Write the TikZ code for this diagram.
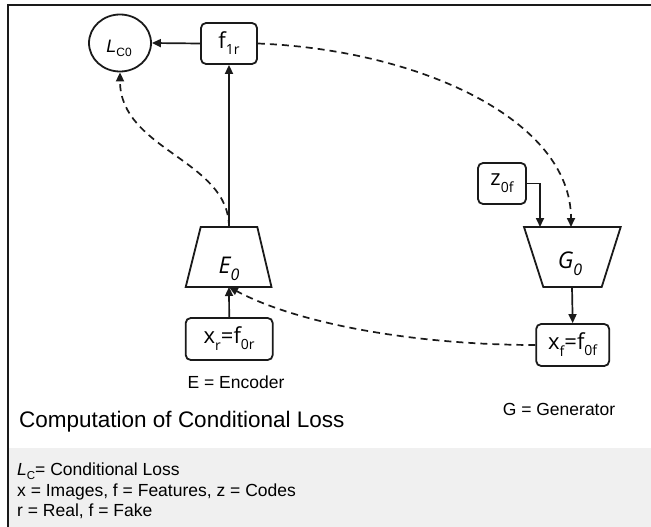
\documentclass[tikz,border=0pt]{standalone}
\usepackage{fontspec}
\setmainfont{Liberation Sans}
\newfontfamily\osans{Open Sans}
\usetikzlibrary{arrows.meta,shapes.geometric}
\definecolor{ln}{HTML}{1A1A1A}
\definecolor{barfill}{HTML}{F0F0F0}
\newcommand\fsz[1]{\fontsize{#1}{#1}\selectfont}
\newcommand\lowsub[3]{\raisebox{-#1}{\fsz{#2}#3}}
\begin{document}
\begin{tikzpicture}[x=1pt,y=-1pt,
  box/.style={draw=ln, line width=1.8pt, rounded corners=5pt, inner sep=0pt, font=\osans\fsz{22}},
  arr/.style={draw=ln, line width=1.7pt, -{Triangle[length=9pt,width=8pt]}},
  dsh/.style={arr, dash pattern=on 7pt off 5pt},
  lbl/.style={inner sep=0pt, font=\fsz{17.5}},
  shp/.style={draw=ln, line width=1.8pt}]
\useasboundingbox (0,0) rectangle (651,527);
\fill[barfill] (8,448) rectangle (651,527);
\draw[ln, line width=2pt] (8,528) -- (8,5) -- (652,5);

% loss circle
\node[shp, ellipse, minimum width=62pt, minimum height=57pt, inner sep=0pt] (L) at (120,43) {};
\node[inner sep=0pt, anchor=base] (Ltxt) at (119,53) {\fsz{18}\itshape L\lowsub{4pt}{12}{\upshape C0}};

% boxes
\node[box, minimum width=56pt, minimum height=41pt] (f1r) at (229,43.5) {f\lowsub{6pt}{14}{1r}};
\node[box, minimum width=48pt, minimum height=41pt] (z0f) at (502,183.5) {z\lowsub{7pt}{14}{0f}};
\node[box, minimum width=87pt, minimum height=42pt] (xr) at (229.2,339) {x\lowsub{7pt}{14}{r}=f\lowsub{6pt}{14}{0r}};
\node[box, minimum width=73pt, minimum height=42pt] (xf) at (572.7,345) {x\lowsub{7pt}{14}{f}=f\lowsub{6pt}{14}{0f}};

% encoder
\coordinate (E0tl) at (200.7,227);
\coordinate (E0tr) at (257.3,227);
\coordinate (E0br) at (271.5,287);
\coordinate (E0bl) at (185.7,287);
\draw[shp] (E0tl) -- (E0tr) -- (E0br) -- (E0bl) -- cycle;
\coordinate (E0top) at (229,227);
\coordinate (E0bot) at (229,287);
\node[inner sep=0pt, anchor=base] (E0lbl) at (229,273) {\osans\fsz{23}\itshape E\lowsub{7pt}{16}{0}};

% generator
\coordinate (G0tl) at (524,227);
\coordinate (G0tr) at (620.7,227);
\coordinate (G0br) at (601.7,287);
\coordinate (G0bl) at (543.3,287);
\draw[shp] (G0tl) -- (G0tr) -- (G0br) -- (G0bl) -- cycle;
\coordinate (Gin1) at (540,227);
\coordinate (Gin2) at (571,227);
\coordinate (Gout) at (572,287);
\node[inner sep=0pt, anchor=base] (G0lbl) at (570,268) {\osans\fsz{23}\itshape G\lowsub{7pt}{16}{0}};

% connectors
\draw[arr] (f1r.west) -- (L.east);
\draw[arr] (E0top) -- (f1r.south);
\draw[dsh] (E0top) .. controls (229,160) and (120,150) .. (L.south);
\draw[dsh] (f1r.east) .. controls (420,50) and (571,120) .. (Gin2);
\draw[arr] (z0f.east) -| (Gin1);
\draw[arr] (Gout) -- (xf.north);
\draw[arr] (xr.north) -- (E0bot);
\draw[dsh] (xf.west) .. controls (420,345) and (300,325) .. (E0bot);

% texts
\node[lbl, anchor=base] (enc) at (236,388) {E = Encoder};
\node[lbl, anchor=base] (gen) at (559,415) {G = Generator};
\node[inner sep=0pt, anchor=base west, font=\fsz{22.5}] (title) at (19,427) {Computation of Conditional Loss};
\node[lbl, anchor=base west] (leg1) at (17,475) {\itshape L\lowsub{4.5pt}{11.5}{\upshape C}\upshape= Conditional Loss};
\node[lbl, anchor=base west] (leg2) at (17,496) {x = Images, f = Features, z = Codes};
\node[lbl, anchor=base west] (leg3) at (17,516) {r = Real, f = Fake};
\end{tikzpicture}
\end{document}
